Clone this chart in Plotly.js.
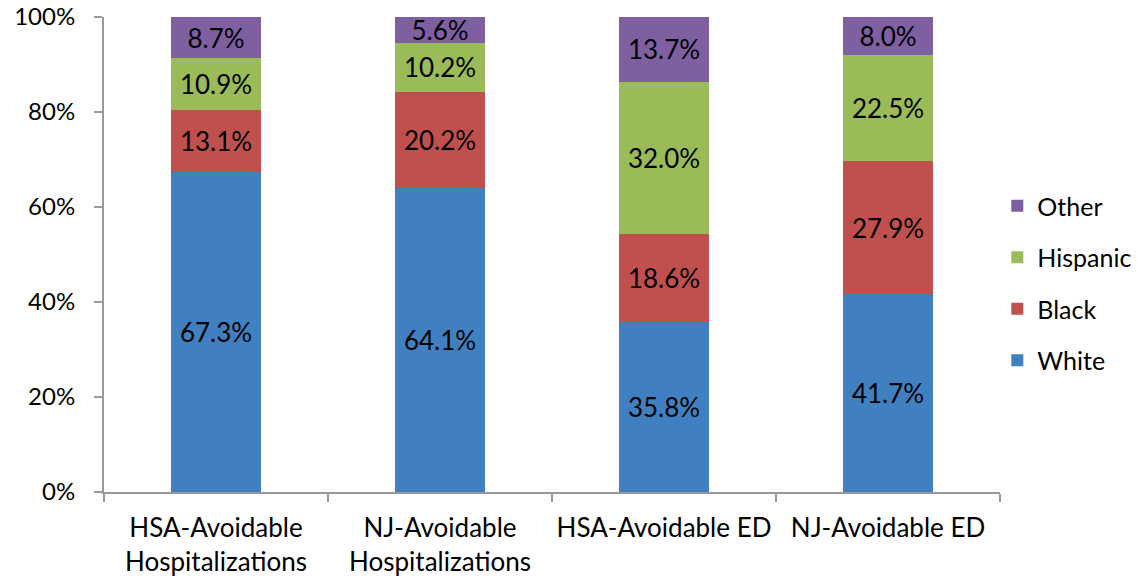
<!DOCTYPE html>
<html>
<head>
<meta charset="utf-8">
<script src="https://cdn.plot.ly/plotly-3.0.1.min.js"></script>
<style>html,body{margin:0;padding:0;background:#fff;}#chart{width:1138px;height:582px;}</style>
</head>
<body>
<div id="chart"></div>
<script>
const categories = ["HSA-Avoidable<br>Hospitalizations", "NJ-Avoidable<br>Hospitalizations", "HSA-Avoidable ED", "NJ-Avoidable ED"];
const white = [67.3, 64.1, 35.8, 41.7];
const black = [13.1, 20.2, 18.6, 27.9];
const hispanic = [10.9, 10.2, 32.0, 22.5];
const other = [8.7, 5.6, 13.7, 8.0];
const seriesNames = ["White", "Black", "Hispanic", "Other"];
const colors = ["#4180C0", "#C0504D", "#9BBB59", "#7E60A0"];
const yTicks = [0, 20, 40, 60, 80, 100];

const font = "Lato, 'Open Sans', sans-serif";
const seriesVals = [white, black, hispanic, other];
const traces = seriesVals.map((v, i) => ({
  type: "bar",
  name: seriesNames[i],
  x: categories,
  y: v,
  legendgroup: seriesNames[i],
  legendrank: 4 - i,
  marker: {color: colors[i], line: {width: 0}},
  text: v.map(d => d.toFixed(1) + "%"),
  textposition: "inside",
  insidetextanchor: "middle",
  textangle: 0,
  constraintext: "none",
  textfont: {family: font, size: 26, color: "#000"},
  hoverinfo: "name+y",
  cliponaxis: true
}));

const layout = {
  width: 1138, height: 582,
  margin: {l: 104, r: 138, t: 17, b: 90, autoexpand: false},
  barmode: "stack",
  bargap: 0.6,
  paper_bgcolor: "#fff",
  plot_bgcolor: "#fff",
  font: {family: font, size: 26, color: "#000"},
  xaxis: {
    type: "category",
    automargin: false,
    tickangle: 0,
    showline: true, linecolor: "#999", linewidth: 2,
    ticks: "outside", tickson: "boundaries", ticklen: 8, tickcolor: "#999", tickwidth: 2,
    ticklabelstandoff: 12,
    showgrid: false, zeroline: false,
    tickfont: {family: font, size: 26, color: "#000"}
  },
  yaxis: {
    range: [0, 100],
    automargin: false,
    tickvals: yTicks,
    ticktext: yTicks.map(t => t + "%"),
    showline: true, linecolor: "#999", linewidth: 2,
    ticks: "outside", ticklen: 8, tickcolor: "#999", tickwidth: 2,
    ticklabelstandoff: 14,
    showgrid: false, zeroline: false,
    tickfont: {family: font, size: 24, color: "#000"}
  },
  showlegend: true,
  legend: {
    x: 0.997, xanchor: "left",
    y: 0.44, yanchor: "middle",
    traceorder: "grouped",
    tracegroupgap: 16,
    itemwidth: 30,
    font: {family: font, size: 25, color: "#000"},
    bgcolor: "rgba(0,0,0,0)"
  }
};

Plotly.newPlot("chart", traces, layout, {displayModeBar: false});
</script>
</body>
</html>
